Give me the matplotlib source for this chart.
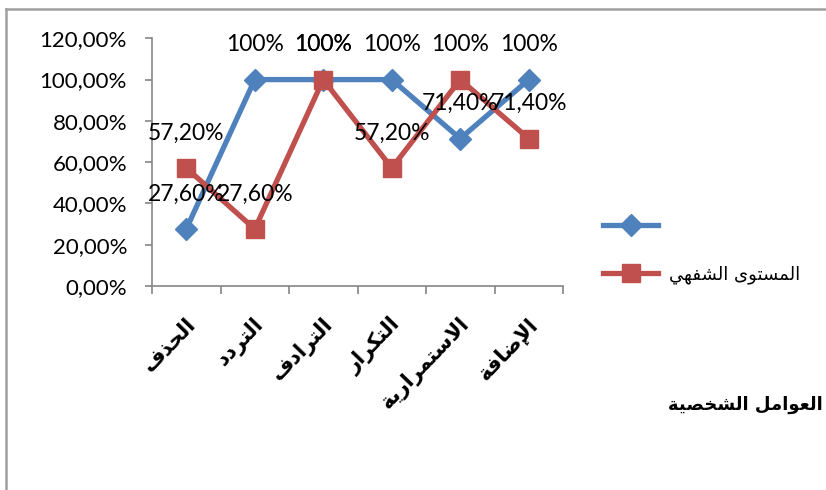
import matplotlib
matplotlib.use('Agg')
import matplotlib.pyplot as plt
from matplotlib.lines import Line2D
from matplotlib.ticker import FuncFormatter, FixedLocator
import numpy as np

categories = ['الحذف', 'التردد', 'الترادف', 'التكرار', 'الاستمرارية', 'الإضافة']
blue_values = [0.276, 1.0, 1.0, 1.0, 0.714, 1.0]
red_values = [0.572, 0.276, 1.0, 0.572, 1.0, 0.714]
blue_name = ' '
red_name = 'المستوى الشفهي'
axis_title = 'العوامل الشخصية'
y_ticks = [0, 0.2, 0.4, 0.6, 0.8, 1.0, 1.2]

# matplotlib does no arabic shaping, so pick the presentation forms by hand
# (isolated, final, initial, medial)
FORMS = {
    'ا': ('\ufe8d', '\ufe8e', None, None),
    'إ': ('\ufe87', '\ufe88', None, None),
    'ة': ('\ufe93', '\ufe94', None, None),
    'ت': ('\ufe95', '\ufe96', '\ufe97', '\ufe98'),
    'ح': ('\ufea1', '\ufea2', '\ufea3', '\ufea4'),
    'خ': ('\ufea5', '\ufea6', '\ufea7', '\ufea8'),
    'د': ('\ufea9', '\ufeaa', None, None),
    'ذ': ('\ufeab', '\ufeac', None, None),
    'ر': ('\ufead', '\ufeae', None, None),
    'س': ('\ufeb1', '\ufeb2', '\ufeb3', '\ufeb4'),
    'ش': ('\ufeb5', '\ufeb6', '\ufeb7', '\ufeb8'),
    'ص': ('\ufeb9', '\ufeba', '\ufebb', '\ufebc'),
    'ض': ('\ufebd', '\ufebe', '\ufebf', '\ufec0'),
    'ع': ('\ufec9', '\ufeca', '\ufecb', '\ufecc'),
    'ف': ('\ufed1', '\ufed2', '\ufed3', '\ufed4'),
    'ك': ('\ufed9', '\ufeda', '\ufedb', '\ufedc'),
    'ل': ('\ufedd', '\ufede', '\ufedf', '\ufee0'),
    'م': ('\ufee1', '\ufee2', '\ufee3', '\ufee4'),
    'ه': ('\ufee9', '\ufeea', '\ufeeb', '\ufeec'),
    'و': ('\ufeed', '\ufeee', None, None),
    'ى': ('\ufeef', '\ufef0', None, None),
    'ي': ('\ufef1', '\ufef2', '\ufef3', '\ufef4'),
    'لا': ('\ufefb', '\ufefc', None, None),
    'لإ': ('\ufef9', '\ufefa', None, None),
}


def arabic(text):
    tokens = []
    i = 0
    while i < len(text):
        if text[i:i + 2] in FORMS:
            tokens.append(text[i:i + 2])
            i += 2
        else:
            tokens.append(text[i])
            i += 1
    out = []
    for k, t in enumerate(tokens):
        if t not in FORMS:
            out.append(t)
            continue
        prev = tokens[k - 1] if k > 0 else None
        nxt = tokens[k + 1] if k + 1 < len(tokens) else None
        join_prev = prev in FORMS and FORMS[prev][2] is not None
        join_next = FORMS[t][2] is not None and nxt in FORMS
        iso, fin, ini, med = FORMS[t]
        if join_prev and join_next:
            out.append(med)
        elif join_prev:
            out.append(fin)
        elif join_next:
            out.append(ini)
        else:
            out.append(iso)
    # display order is right to left
    return ''.join(out)[::-1]


def pct(v):
    if v == 1.0:
        return '100%'
    return f'{v * 100:.2f}%'.replace('.', ',')


plt.rcParams['font.family'] = ['Lato', 'DejaVu Sans']
W, H = 826, 490
fig = plt.figure(figsize=(W / 100, H / 100), dpi=100)
ax = fig.add_axes([152 / W, 1 - 286 / H, (563 - 152) / W, (286 - 38.3) / H])

x = np.arange(len(categories))
blue, red = '#4f81bd', '#c0504d'
ax.plot(x, blue_values, color=blue, lw=3.8, marker='D', ms=11, label=blue_name)
ax.plot(x, red_values, color=red, lw=3.8, marker='s', ms=12.5, label=arabic(red_name))

for vals in (blue_values, red_values):
    for xi, v in zip(x, vals):
        ax.annotate(pct(v), (xi, v), xytext=(0, 35), textcoords='offset pixels',
                    ha='center', va='center', fontsize=16.5, color='black')

ax.set_xlim(-0.5, len(categories) - 0.5)
ax.set_ylim(0, 1.2)
ax.yaxis.set_major_locator(FixedLocator(y_ticks))
ax.yaxis.set_major_formatter(FuncFormatter(lambda v, p: pct(v) if v != 1.0 else '100,00%'))
ax.tick_params(axis='y', direction='out', length=5, width=1.2, color='#868686',
               labelsize=16, pad=13)

ax.set_xticks(x)
ax.set_xticklabels([])
ax.set_xticks(np.arange(len(categories) + 1) - 0.5, minor=True)
ax.tick_params(axis='x', which='major', length=0)
ax.tick_params(axis='x', which='minor', direction='out', length=6, width=1.2, color='#868686')
for xi, c in zip(x, categories):
    ax.annotate(arabic(c), (xi, 0), xytext=(6, -35), textcoords='offset pixels',
                ha='right', va='center', rotation=46, rotation_mode='anchor',
                family='DejaVu Sans', fontweight='bold', fontsize=15)

for s in ('top', 'right'):
    ax.spines[s].set_visible(False)
for s in ('left', 'bottom'):
    ax.spines[s].set_color('#868686')
    ax.spines[s].set_linewidth(1.2)

leg = ax.legend(loc='upper left', bbox_to_anchor=(603 / W, 1 - 217 / H),
                bbox_transform=fig.transFigure, frameon=False, borderpad=0,
                borderaxespad=0, handlelength=3.05, handletextpad=0.6,
                labelspacing=1.7, prop={'family': 'DejaVu Sans', 'size': 13})

fig.text(823 / W, 1 - 405 / H, arabic(axis_title), ha='right', va='center',
         family='DejaVu Sans', fontweight='bold', fontsize=13)

# outer chart frame
fig.add_artist(Line2D([6 / W, 1], [1 - 9 / H, 1 - 9 / H], color='#a0a0a0', lw=1.8))
fig.add_artist(Line2D([6 / W, 6 / W], [0, 1 - 9 / H], color='#a0a0a0', lw=1.8))

fig.savefig('out.png', dpi=100)
